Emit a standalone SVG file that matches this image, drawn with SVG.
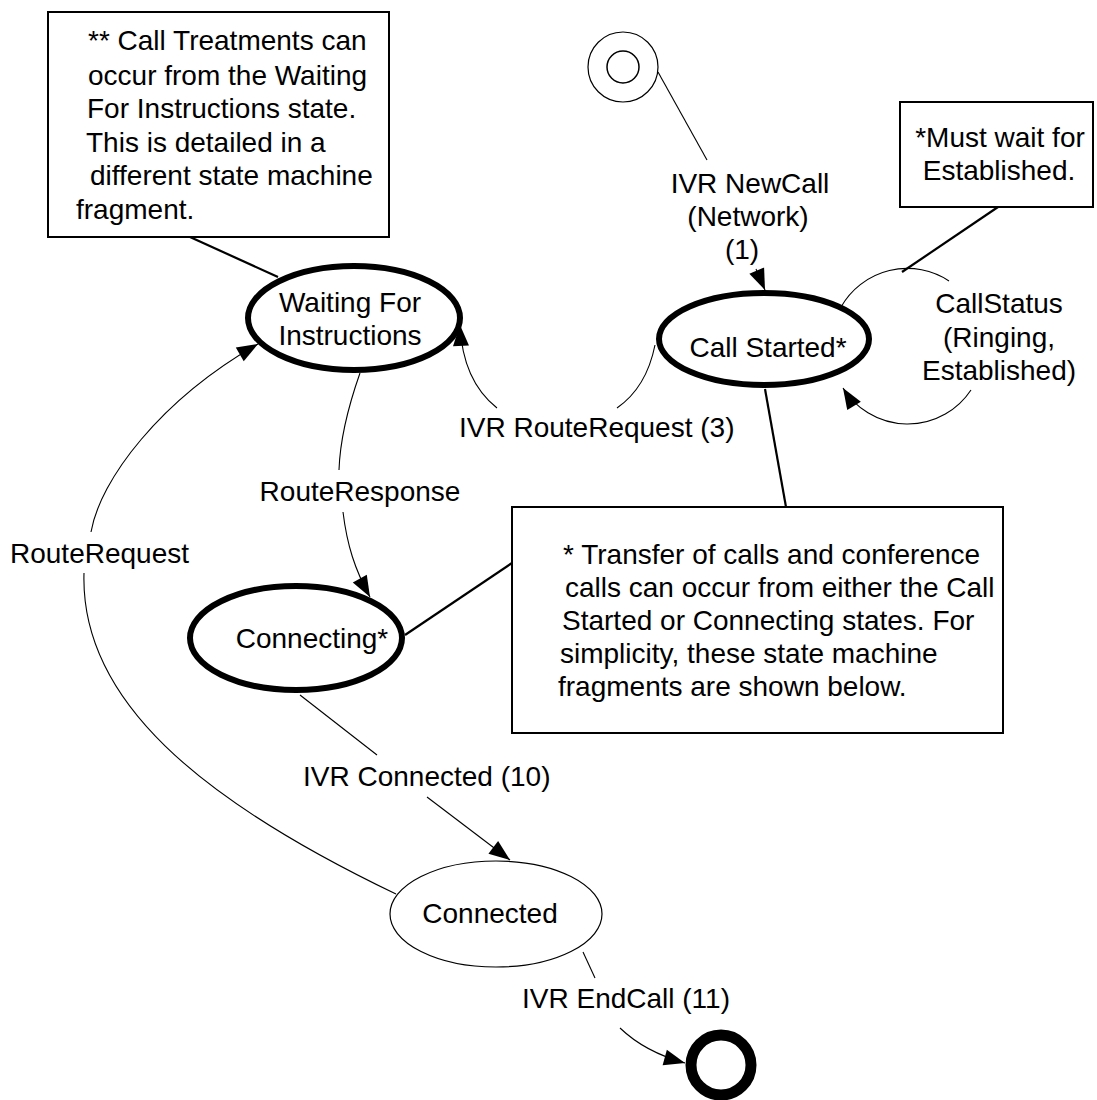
<svg xmlns="http://www.w3.org/2000/svg" width="1097" height="1100" viewBox="0 0 1097 1100">
<style>
text{font-family:"Liberation Sans",Arial,sans-serif;font-size:28px;fill:#000}
.c{text-anchor:middle}
.state{fill:#fff;stroke:#000;stroke-width:6}
.thin{fill:#fff;stroke:#000;stroke-width:1.2}
.note{fill:#fff;stroke:#000;stroke-width:2}
.edge{fill:none;stroke:#000;stroke-width:1.1}
.anchor{fill:none;stroke:#000;stroke-width:2.2}
</style>
<defs>
<marker id="arr" markerUnits="userSpaceOnUse" markerWidth="24" markerHeight="18" refX="21" refY="8" orient="auto" overflow="visible">
<path d="M0,0 L21,8 L0,16 z" fill="#000"/>
</marker>
</defs>
<rect width="1097" height="1100" fill="#fff"/>
<g id="connectors">
<path class="anchor" d="M190 237 L278 277"/>
<path class="anchor" d="M998 207 L902 272"/>
<path class="anchor" d="M765 389 L786 507"/>
<path class="anchor" d="M405 635 L512 563"/>
<path class="edge" d="M658 72 L707 160"/>
<path class="edge" d="M756 269 L765 290" marker-end="url(#arr)"/>
<path class="edge" d="M655 345 C650 370 640 392 617 408"/>
<path class="edge" d="M497 408 C478 393 462 368 460 325" marker-end="url(#arr)"/>
<path class="edge" d="M841 307 A76 76 0 0 1 949 281"/>
<path class="edge" d="M971 390 A76 76 0 0 1 843 388" marker-end="url(#arr)"/>
<path class="edge" d="M360 373 C347 410 340 440 339 470"/>
<path class="edge" d="M343 512 C347 545 355 570 370 597" marker-end="url(#arr)"/>
<path class="edge" d="M396 894 C200 800 80 700 84 573"/>
<path class="edge" d="M91 532 C100 480 160 400 258 344" marker-end="url(#arr)"/>
<path class="edge" d="M300 695 L377 755"/>
<path class="edge" d="M427 797 L510 860" marker-end="url(#arr)"/>
<path class="edge" d="M583 952 L595 978"/>
<path class="edge" d="M620 1028 Q645 1052 685 1063" marker-end="url(#arr)"/>
<text x="750" y="193" class="c">IVR NewCall</text>
<text x="748" y="226" class="c">(Network)</text>
<text x="742" y="259" class="c">(1)</text>
<text x="459" y="437">IVR RouteRequest (3)</text>
<text x="999" y="313" class="c">CallStatus</text>
<text x="999" y="347" class="c">(Ringing,</text>
<text x="999" y="380" class="c">Established)</text>
<text x="360" y="501" class="c">RouteResponse</text>
<text x="10" y="563">RouteRequest</text>
<text x="303" y="786">IVR Connected (10)</text>
<text x="522" y="1008">IVR EndCall (11)</text>
</g>
<g id="note-treatments">
<rect class="note" x="48" y="12" width="341" height="225"/>
<text x="88" y="50">** Call Treatments can</text>
<text x="88" y="85">occur from the Waiting</text>
<text x="87" y="118">For Instructions state.</text>
<text x="86" y="152">This is detailed in a</text>
<text x="90" y="185">different state machine</text>
<text x="76" y="219">fragment.</text>
</g>
<g id="note-established">
<rect class="note" x="900" y="102" width="193" height="105"/>
<text x="1000" y="147" class="c">*Must wait for</text>
<text x="999" y="180" class="c">Established.</text>
</g>
<g id="note-transfer">
<rect class="note" x="512" y="507" width="491" height="226"/>
<text x="563" y="564">* Transfer of calls and conference</text>
<text x="565" y="597">calls can occur from either the Call</text>
<text x="562" y="630">Started or Connecting states. For</text>
<text x="560" y="663">simplicity, these state machine</text>
<text x="558" y="696">fragments are shown below.</text>
</g>
<g id="initial">
<circle cx="623" cy="67" r="35" fill="#fff" stroke="#000" stroke-width="1.2"/>
<circle cx="623" cy="67" r="16" fill="#fff" stroke="#000" stroke-width="1.5"/>
</g>
<g id="waiting">
<ellipse class="state" cx="354" cy="318" rx="106" ry="52"/>
<text x="350" y="312" class="c">Waiting For</text>
<text x="350" y="345" class="c">Instructions</text>
</g>
<g id="call-started">
<ellipse class="state" cx="764" cy="339" rx="105" ry="46"/>
<text x="768" y="357" class="c">Call Started*</text>
</g>
<g id="connecting">
<ellipse class="state" cx="296" cy="638" rx="106" ry="52"/>
<text x="312" y="648" class="c">Connecting*</text>
</g>
<g id="connected">
<ellipse class="thin" cx="496" cy="914" rx="106" ry="53"/>
<text x="490" y="923" class="c">Connected</text>
</g>
<g id="final">
<circle cx="721" cy="1065" r="30" fill="#fff" stroke="#000" stroke-width="11"/>
</g>
</svg>
